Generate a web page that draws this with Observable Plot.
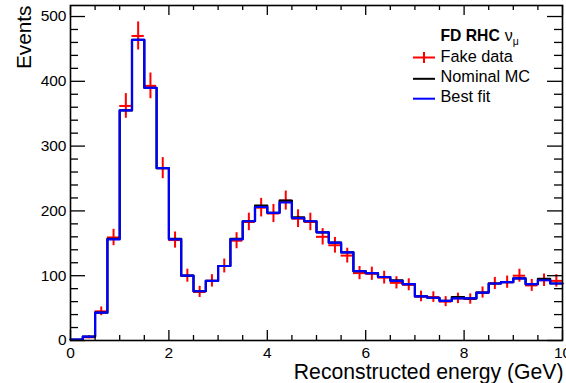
<!DOCTYPE html>
<html>
<head>
<meta charset="utf-8">
<script src="https://cdn.jsdelivr.net/npm/d3@7"></script>
<script src="https://cdn.jsdelivr.net/npm/@observablehq/plot@0.6"></script>
<style>
  html, body { margin: 0; padding: 0; background: #fff; }
  #chart { width: 566px; height: 383px; overflow: hidden; }
</style>
</head>
<body>
<div id="chart"></div>
<script>
// Reconstructed-energy spectrum, FD RHC numu sample: 40 bins of 0.25 GeV from 0 to 10 GeV
const binWidth = 0.25;
const binLow = d3.range(40).map(i => i * binWidth);

// Events per bin
const fakeData = [
  0, 5, 45, 159, 362, 470, 393, 266,
  155, 100, 75, 92, 115, 154, 183, 205,
  196, 216, 188, 183, 160, 147, 131, 104,
  103, 97, 89, 86, 68, 67, 60, 65,
  64, 74, 88, 90, 100, 85, 93, 92
];
const nominalMC = [
  1.5, 6, 43, 157, 355, 464, 390, 266,
  157, 100, 76, 92, 115, 157, 184, 208,
  197, 216, 190, 184, 167, 151, 136, 107,
  104, 98, 93, 87, 68, 66, 61, 67,
  65, 74, 88, 90, 96, 87, 95, 88
];
const bestFit = [
  1.5, 6, 43, 156, 355, 464, 390, 266,
  156, 100, 76, 92, 115, 156, 184, 206,
  197, 213, 189, 184, 167, 151, 136, 107,
  104, 98, 92, 87, 68, 66, 61, 65,
  65, 74, 88, 90, 96, 87, 93, 88
];

// Axis ticks
const xMajorTicks = [0, 2, 4, 6, 8, 10];
const xMinorTicks = [0.5, 1, 1.5, 2.5, 3, 3.5, 4.5, 5, 5.5, 6.5, 7, 7.5, 8.5, 9, 9.5];
const yMajorTicks = [0, 100, 200, 300, 400, 500];
const yMinorTicks = d3.range(20, 517, 20).filter(v => v % 100 !== 0);

const xLabel = "Reconstructed energy (GeV)";
const yLabel = "Events";

const W = 566, H = 383;
const mL = 70, mR = 4, mT = 5, mB = 43;
const plotW = W - mL - mR, plotH = H - mT - mB;
const font = "'Liberation Sans', Arial, Helvetica, sans-serif";

// Step outline of a histogram: one point per bin edge
function outline(values) {
  const pts = values.map((v, i) => ({x: binLow[i], y: v}));
  pts.push({x: binLow[binLow.length - 1] + binWidth, y: values[values.length - 1]});
  return pts;
}

const dataBins = fakeData
  .map((v, i) => ({lo: binLow[i], hi: binLow[i] + binWidth, mid: binLow[i] + binWidth / 2, v}))
  .filter(d => d.v > 0);

const tickStyle = {stroke: "black", strokeWidth: 1.3};

const chart = Plot.plot({
  width: W,
  height: H,
  marginLeft: mL,
  marginRight: mR,
  marginTop: mT,
  marginBottom: mB,
  style: {fontFamily: font, background: "white", overflow: "visible"},
  x: {domain: [0, 10], axis: null},
  y: {domain: [0, 517], axis: null},
  marks: [
    // fake data: Poisson error bars with bin-wide horizontal bars
    Plot.ruleX(dataBins, {x: "mid", y1: d => d.v - Math.sqrt(d.v), y2: d => d.v + Math.sqrt(d.v), stroke: "#ff0000", strokeWidth: 2}),
    Plot.ruleY(dataBins, {y: "v", x1: "lo", x2: "hi", stroke: "#ff0000", strokeWidth: 2}),
    // nominal MC and best fit histograms
    Plot.line(outline(nominalMC), {x: "x", y: "y", curve: "step-after", stroke: "black", strokeWidth: 2.2}),
    Plot.line(outline(bestFit), {x: "x", y: "y", curve: "step-after", stroke: "#0000ff", strokeWidth: 2.2}),
    // inward ticks on all four sides
    Plot.ruleX(xMajorTicks, {x: d => d, insetTop: plotH - 10, ...tickStyle}),
    Plot.ruleX(xMinorTicks, {x: d => d, insetTop: plotH - 5, ...tickStyle}),
    Plot.ruleX(xMajorTicks, {x: d => d, insetBottom: plotH - 10, ...tickStyle}),
    Plot.ruleX(xMinorTicks, {x: d => d, insetBottom: plotH - 5, ...tickStyle}),
    Plot.ruleY(yMajorTicks, {y: d => d, insetRight: plotW - 15, ...tickStyle}),
    Plot.ruleY(yMinorTicks, {y: d => d, insetRight: plotW - 8, ...tickStyle}),
    Plot.ruleY(yMajorTicks, {y: d => d, insetLeft: plotW - 15, ...tickStyle}),
    Plot.ruleY(yMinorTicks, {y: d => d, insetLeft: plotW - 8, ...tickStyle}),
    Plot.frame({stroke: "black", strokeWidth: 1.6}),
    // tick labels
    Plot.text(xMajorTicks, {x: d => d, text: d => String(d), frameAnchor: "bottom", lineAnchor: "top", dy: 6, fontSize: 15.5, fill: "black"}),
    Plot.text(yMajorTicks, {y: d => d, text: d => String(d), frameAnchor: "left", textAnchor: "end", dx: -4, fontSize: 15.5, fill: "black"}),
    // axis titles
    Plot.text([xLabel], {text: d => d, frameAnchor: "bottom-right", textAnchor: "end", lineAnchor: "bottom", dy: 38, dx: 1, fontSize: 21.2, fill: "black"}),
    Plot.text([yLabel], {text: d => d, frameAnchor: "top-left", textAnchor: "end", lineAnchor: "bottom", rotate: -90, dx: -40, dy: 0, fontSize: 20.8, fill: "black"})
  ]
});

// Legend
const svg = d3.select(chart);
const lg = svg.append("g").attr("font-family", font).attr("fill", "black").attr("text-anchor", "start");
const head = lg.append("text").attr("x", 440.5).attr("y", 40.5).attr("font-size", 15.7);
head.append("tspan").attr("font-weight", "bold").text("FD RHC");
head.append("tspan").attr("dx", 5).attr("font-size", 16).text("ν");
head.append("tspan").attr("dy", 4).attr("font-size", 10.5).text("μ");

const entries = [
  {label: "Fake data", color: "#ff0000", cross: true, cy: 57.5, base: 61.5},
  {label: "Nominal MC", color: "black", cross: false, cy: 78.8, base: 82.4},
  {label: "Best fit", color: "#0000ff", cross: false, cy: 98.7, base: 102.4}
];
for (const e of entries) {
  lg.append("line").attr("x1", 413).attr("x2", 435).attr("y1", e.cy).attr("y2", e.cy)
    .attr("stroke", e.color).attr("stroke-width", 2);
  if (e.cross) {
    lg.append("line").attr("x1", 424).attr("x2", 424).attr("y1", e.cy - 5.5).attr("y2", e.cy + 5.5)
      .attr("stroke", e.color).attr("stroke-width", 2);
  }
  lg.append("text").attr("x", 440.5).attr("y", e.base).attr("font-size", 16.3).text(e.label);
}

document.getElementById("chart").appendChild(chart);
</script>
</body>
</html>
